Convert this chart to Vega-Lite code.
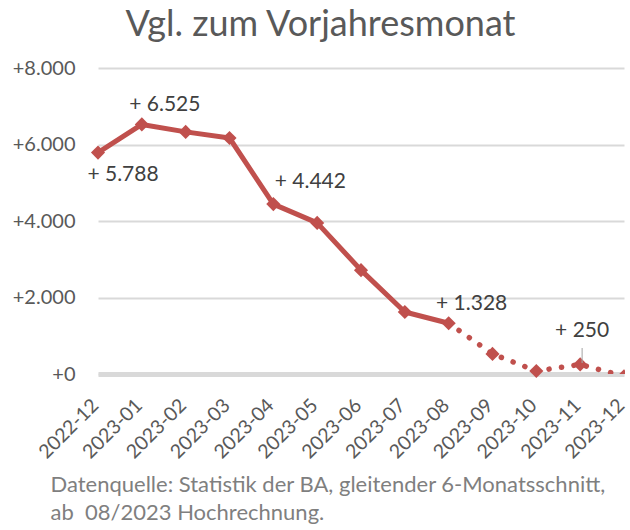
{
  "$schema": "https://vega.github.io/schema/vega-lite/v6.json",
  "width": 527,
  "height": 306,
  "autosize": "none",
  "padding": {"left": 98, "top": 68, "right": 5, "bottom": 156},
  "config": {
    "view": {"stroke": null},
    "font": "Lato",
    "locale": {"number": {"decimal": ",", "thousands": ".", "grouping": [3], "currency": ["", " €"]}}
  },
  "title": {
    "text": "Vgl. zum Vorjahresmonat",
    "fontSize": 36,
    "font": "Lato",
    "fontWeight": "normal",
    "color": "#595959",
    "anchor": "middle",
    "frame": "group",
    "dx": -41,
    "offset": 14
  },
  "data": {
    "values": [
      {"month": "2022-12", "value": 5788, "label": "+ 5.788"},
      {"month": "2023-01", "value": 6525, "label": "+ 6.525"},
      {"month": "2023-02", "value": 6330, "label": ""},
      {"month": "2023-03", "value": 6170, "label": ""},
      {"month": "2023-04", "value": 4442, "label": "+ 4.442"},
      {"month": "2023-05", "value": 3950, "label": ""},
      {"month": "2023-06", "value": 2715, "label": ""},
      {"month": "2023-07", "value": 1620, "label": ""},
      {"month": "2023-08", "value": 1328, "label": "+ 1.328"},
      {"month": "2023-09", "value": 525, "label": ""},
      {"month": "2023-10", "value": 78, "label": ""},
      {"month": "2023-11", "value": 250, "label": "+ 250"},
      {"month": "2023-12", "value": -60, "label": ""}
    ]
  },
  "encoding": {
    "x": {
      "field": "month",
      "type": "ordinal",
      "sort": null,
      "scale": {"type": "point", "range": [0, 526], "padding": 0},
      "axis": {
        "title": ["Datenquelle: Statistik der BA, gleitender 6-Monatsschnitt,", "ab\u00a0 08/2023 Hochrechnung."],
        "titleFontSize": 22,
        "titleFontWeight": "normal",
        "titleColor": "#7f7f7f",
        "titleAlign": "left",
        "titleAnchor": "start",
        "titleBaseline": "top",
        "titleX": -48,
        "titleY": 100,
        "titleLineHeight": 28,
        "labelAngle": -45,
        "labelAlign": "right",
        "labelBaseline": "middle",
        "labelFontSize": 19.5,
        "labelColor": "#595959",
        "labelPadding": 28,
        "labelOffset": -3,
        "ticks": false,
        "grid": false,
        "domainColor": "#d9d9d9",
        "domainWidth": 5,
        "labelOverlap": false
      }
    },
    "y": {
      "field": "value",
      "type": "quantitative",
      "scale": {"domain": [0, 8000], "nice": false},
      "axis": {
        "title": null,
        "values": [0, 2000, 4000, 6000, 8000],
        "format": "+,d",
        "grid": true,
        "gridColor": "#d9d9d9",
        "gridWidth": 2,
        "domain": false,
        "ticks": false,
        "labelFontSize": 20,
        "labelColor": "#595959",
        "labelPadding": 23
      }
    }
  },
  "layer": [
    {
      "transform": [{"filter": {"field": "month", "oneOf": ["2022-12", "2023-01", "2023-02", "2023-03", "2023-04", "2023-05", "2023-06", "2023-07", "2023-08"]}}],
      "mark": {"type": "line", "color": "#C0504D", "strokeWidth": 5, "strokeJoin": "round"}
    },
    {
      "transform": [{"filter": {"field": "month", "oneOf": ["2023-08", "2023-09", "2023-10", "2023-11", "2023-12"]}}],
      "mark": {"type": "line", "color": "#C0504D", "strokeWidth": 5.5, "strokeDash": [0.1, 12.5], "strokeCap": "round", "clip": true}
    },
    {
      "transform": [{"filter": {"field": "month", "oneOf": ["2022-12", "2023-01", "2023-02", "2023-03", "2023-04", "2023-05", "2023-06", "2023-07", "2023-08", "2023-09", "2023-10", "2023-11"]}}],
      "mark": {"type": "point", "shape": "diamond", "filled": true, "size": 200, "color": "#C0504D", "opacity": 1}
    },
    {
      "transform": [{"filter": {"field": "month", "equal": "2023-12"}}],
      "mark": {"type": "point", "shape": "diamond", "filled": true, "size": 200, "color": "#C0504D", "opacity": 1, "clip": true}
    },
    {
      "transform": [{"filter": {"field": "month", "equal": "2023-11"}}],
      "mark": {"type": "tick", "orient": "vertical", "color": "#a6a6a6", "thickness": 1.5, "size": 15, "yOffset": -9, "xOffset": 2}
    },
    {
      "transform": [{"filter": {"field": "month", "oneOf": ["2023-01", "2023-08"]}}],
      "mark": {"type": "text", "align": "center", "baseline": "middle", "dx": 23, "dy": -19, "fontSize": 21, "color": "#404040"},
      "encoding": {"text": {"field": "label"}}
    },
    {
      "transform": [{"filter": {"field": "month", "equal": "2023-04"}}],
      "mark": {"type": "text", "align": "center", "baseline": "middle", "dx": 37, "dy": -22, "fontSize": 21, "color": "#404040"},
      "encoding": {"text": {"field": "label"}}
    },
    {
      "transform": [{"filter": {"field": "month", "equal": "2022-12"}}],
      "mark": {"type": "text", "align": "center", "baseline": "middle", "dx": 25, "dy": 22, "fontSize": 21, "color": "#404040"},
      "encoding": {"text": {"field": "label"}}
    },
    {
      "transform": [{"filter": {"field": "month", "equal": "2023-11"}}],
      "mark": {"type": "text", "align": "center", "baseline": "middle", "dx": 2, "dy": -33, "fontSize": 21, "color": "#404040"},
      "encoding": {"text": {"field": "label"}}
    }
  ]
}
